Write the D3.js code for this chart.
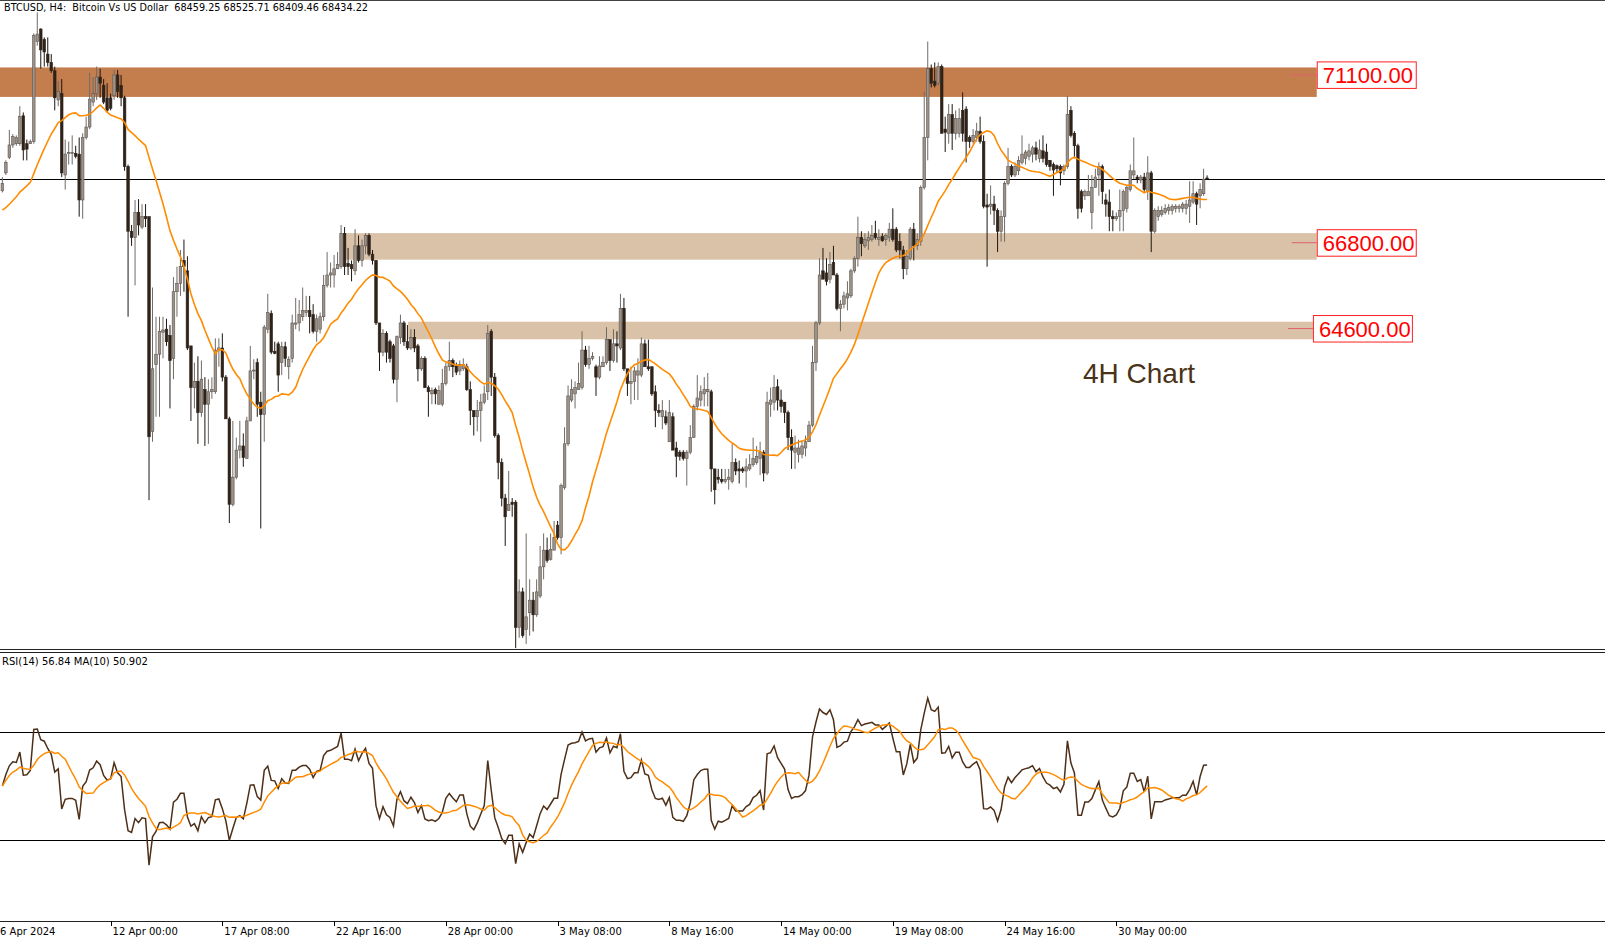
<!DOCTYPE html>
<html><head><meta charset="utf-8">
<script src="https://cdn.jsdelivr.net/npm/d3@7"></script>
<style>
body{margin:0;background:#fff;}
svg{display:block;}
text{white-space:pre;}
</style>
</head><body>
<svg id="chart" width="1605" height="940"></svg>
<script>
// ---------------- DATA ----------------
const firstBar = 5;      // index of first visible 4H bar (bar 0 = 6 Apr 2024 00:00)
const lastBar = 350;
const opens = [
68130,68589,68984,69305,69337,69337,70053,69337,69337,69390,
71955,72275,72008,71634,71420,71207,70459,70619,68536,69091,
69091,69091,69070,67895,69497,69764,70405,70619,71046,70833,
70513,70513,70566,71100,70833,70513,68749,67093,66933,67574,
67200,67467,67467,61965,63675,63942,64508,64583,64423,63835,
65544,65760,66345,66078,64155,63087,63247,62446,63034,62660,
62980,62980,64049,64102,63354,62286,60095,60790,61484,61591,
61271,62232,63514,63728,62713,62393,64583,64989,64017,64208,
63728,64134,63621,63835,64711,64743,64903,65010,65064,64957,
64530,64583,64903,65705,65972,65972,66132,66185,67040,66271,
66239,66078,66720,66345,66720,66987,66506,66345,64743,63995,
64476,64262,64155,63301,64370,64743,64262,64102,64370,64155,
63568,63835,63087,62926,63034,62660,62660,63194,63621,63782,
63642,63514,63568,63621,63034,62500,62339,62500,62713,62980,
64530,63354,61858,61164,60255,59935,60149,60149,56943,57851,
56890,57317,57638,57264,57745,58493,58920,58685,58920,59561,
59241,60523,61645,62767,62926,63034,63087,64049,63675,63835,
63621,63354,63621,63728,64316,63782,64208,64102,65117,63568,
63194,63247,63407,63407,64208,63621,63621,62980,62500,62339,
62339,61698,62339,61538,61431,61431,61271,61431,61805,62606,
62767,62926,62980,62980,61003,60790,60736,60683,60736,60683,
61164,61003,61003,60950,61003,61110,61164,61271,61431,60897,
62660,62713,63108,62767,62713,62446,61805,61431,61378,61378,
61538,61698,62125,63728,64743,66078,66025,65865,66292,65972,
65117,65224,65384,65437,66078,66399,66933,66720,66848,66880,
67040,66880,66955,66880,66933,67147,67147,66826,66613,66132,
66399,67147,66720,66826,68215,69497,71260,70940,70886,71313,
69711,69604,70085,69604,69604,70192,70224,69497,69390,69497,
69658,69390,67767,67735,67788,67627,67093,67467,68322,68749,
68536,68643,68856,68963,69016,69070,69230,68963,69155,69123,
68910,68803,68771,68749,68642,68749,70192,69604,69284,68108,
68002,68002,67574,68215,68536,68749,67895,67841,67467,67414,
67467,67627,67681,68162,68536,68482,68408,68482,68108,68589,
67093,67467,67521,67574,67627,67627,67681,67681,67681,67681,
67735,67841,68055,68002,68055,68459.25];
const highs = [
68482,68910,69690,69583,69550,70298,70138,69444,69444,72168,
72702,72296,72061,72061,71634,71313,70940,70993,69444,69390,
69550,69284,69497,69604,70031,71153,71046,71313,71260,70993,
70886,70619,71228,71228,71100,70566,68803,67254,67895,67916,
67788,67788,67467,65651,64903,64903,64903,64850,64690,65918,
66185,66613,66880,66452,64155,63728,63889,63782,63354,63301,
63350,64348,64348,64476,63407,62339,62232,61805,62232,61912,
62339,64155,63813,63835,62980,64690,65491,65064,64262,64262,
64262,64262,63889,64957,65384,65331,65651,65437,65437,65224,
64957,65010,65972,66559,66292,66484,66559,67254,67200,66666,
66345,67147,66987,66880,67040,67040,66613,66345,64743,64583,
64530,64316,64208,64423,64957,64796,64690,64583,64583,64208,
63889,63889,63141,63087,63087,63141,63568,63728,64262,63835,
63728,63782,63835,63700,63247,62500,62767,62926,63141,64690,
64583,63461,61912,61271,60362,60950,60255,60202,58172,57958,
59348,58172,57851,58172,59027,59348,59241,59348,59668,59668,
60630,62072,63141,63301,63247,63728,64530,64155,64155,63995,
63675,63889,63889,64636,64316,64583,64530,65491,65384,63568,
63621,63621,63835,64369,64316,64316,63621,63141,62660,62767,
62500,62767,62446,61698,61484,61484,61484,62125,62660,63407,
63141,63354,63461,63034,61003,61003,61003,61003,61003,61645,
61271,61217,61057,61271,61378,61805,61591,61698,61484,62980,
63087,63407,63301,63034,62713,62500,62018,61858,61751,61698,
61858,62232,64155,64796,66399,66666,66399,66559,66720,66025,
65331,65544,65811,66132,66452,67467,67093,67040,67093,67254,
67361,67147,67040,67040,67307,67681,67200,67040,66720,66613,
67200,67307,67040,68269,70673,71955,71367,71420,71420,71367,
70031,70352,70352,70192,70245,70651,70298,69550,69711,69871,
70031,69550,68055,68269,68002,67681,67627,68375,69230,68803,
68856,69016,69550,69177,69337,69284,69390,69444,69550,69337,
68910,68856,68803,68803,68803,70566,70298,69658,69337,68162,
68162,68536,68536,68696,68856,68803,68055,68162,67627,67574,
68162,68162,68269,68803,69497,68536,68536,68589,69016,68642,
67681,67735,67735,67788,67788,67788,67788,67788,67841,67895,
68375,68375,68108,68322,68696,68525.71];
const lows = [
68087,68536,68942,69230,69284,69284,68910,68910,69337,69337,
71848,71260,71313,71313,71153,70192,70298,68482,68162,68803,
68803,68963,67467,67414,69444,69711,70298,70459,70513,70352,
70138,70192,70459,70513,70298,68642,64903,66720,65705,66987,
67147,67200,60202,61698,62339,62339,63835,64155,62553,63301,
64903,65437,65544,64049,62232,62553,61645,62339,61591,61645,
62800,62926,63621,63247,62286,59614,60042,60736,61271,61057,
61271,62232,63301,62339,59476,61698,64476,63942,63942,62980,
63407,63621,63301,63728,64583,64529,64796,64903,64476,64476,
64262,64476,64796,65651,65651,65651,66132,66132,65972,65972,
65811,65972,66292,66185,66506,66452,66239,64690,63514,63889,
63728,63728,63194,62713,64208,64155,64049,64049,63995,63247,
63514,63087,62339,62660,62660,62660,62606,63141,63514,63354,
63407,63407,63514,63000,62125,61858,61965,61698,62660,62767,
62873,61805,60736,60042,59027,59935,59775,56409,56676,56676,
56516,56730,56836,57211,57691,58172,58600,58653,58920,59188,
58813,60469,61591,62713,62553,63034,63034,63621,63568,63782,
62873,63301,63621,63675,63514,63728,63728,64049,63514,62873,
62660,62767,62767,63354,63621,63514,62873,62072,62339,62018,
62125,61698,61484,60790,61217,61217,60576,61378,61805,62500,
62606,62606,62606,60416,60095,60629,60629,60629,60469,60629,
60843,60629,60897,60523,60950,61057,61110,60843,60683,60843,
62339,62500,62500,62446,62179,61484,61003,61003,61164,61271,
61324,61698,62072,63514,64690,65865,65705,65758,65972,65064,
64530,65117,65064,65384,66025,66185,66452,66666,66613,66826,
66880,66720,66826,66720,66826,66826,66559,66399,65865,65972,
66345,66345,66613,66720,68162,68910,70779,70779,70833,69604,
69123,69337,69177,69444,69497,69390,68856,69230,69337,69390,
69337,67681,66185,67521,67254,66559,66826,66826,68269,68482,
68482,68536,68803,68803,68910,68856,68910,68856,68856,68749,
68642,68002,68589,68269,68536,68696,69497,68963,67414,67574,
67895,68002,67147,68215,68002,67788,67467,67093,67093,67361,
67093,67093,67574,68108,68429,68322,68322,68108,67895,66559,
67040,67361,67467,67521,67521,67521,67574,67574,67574,67521,
67307,67788,67254,67681,68002,68409.46];
const closes = [
68322,68856,69305,69519,69497,70031,69177,69198,69390,72115,
72147,71741,71688,71420,71207,70513,70673,68589,69070,69113,
69113,69016,67895,69497,69764,70480,70619,71046,70886,70405,
70192,70245,71100,70673,70513,68749,67093,66933,67574,67254,
67467,67414,61826,63568,63942,64530,64562,64262,63782,65544,
65760,66185,66185,64102,63087,63247,62446,63301,62660,62980,
63034,64049,64102,63354,62286,60095,60790,61484,61591,61292,
62232,63514,63536,62660,62393,64636,65010,63995,63963,63407,
64134,63835,63813,64743,64743,64957,65064,65064,64903,64530,
64850,64903,65705,65972,66025,66132,66239,67040,66185,66185,
66132,66720,66345,66720,66987,66506,66345,64743,63995,64476,
63995,63835,63301,64390,64743,64262,64102,64370,64102,63568,
63835,63087,62980,63012,62926,63012,63194,63621,63782,63621,
63482,63675,63675,63034,62500,62339,62500,62713,62926,64476,
63354,61858,61164,60255,59775,60095,60095,56943,57851,56730,
57211,57638,57264,57851,58493,58920,58653,58942,59241,59241,
60576,61645,62873,63034,63087,63194,64049,63675,63835,63889,
63354,63642,63728,64316,63782,64208,64155,65117,63568,63194,
63247,63514,63514,64208,63621,63568,62926,62500,62446,62500,
62179,62446,61484,61324,61324,61271,61431,61805,62606,62820,
62980,63034,63034,61003,60469,60736,60683,60736,60790,61164,
60950,60950,60950,61057,61110,61271,61324,61431,60897,62713,
62767,63087,62767,62606,62446,61805,61484,61538,61538,61591,
61698,62125,63728,64743,65972,65865,65811,66239,65972,65117,
65224,65437,65491,66078,66399,66933,66773,66880,66933,66987,
66933,66933,66848,66987,67147,66880,66613,66613,66132,66452,
67147,66720,66880,68215,69497,71260,70886,70833,71313,69604,
69626,70085,69604,69978,69978,69604,69390,69390,69550,69658,
69390,67735,67713,67788,67627,67093,67467,68322,68749,68536,
68749,68910,69070,69123,69155,69230,69070,69177,68963,68803,
68749,68664,68696,68589,68749,70085,69550,69284,67681,67681,
68108,68108,68215,68482,68749,68108,67788,67467,67414,67467,
67627,68108,68215,68642,68642,68429,68482,68162,68589,67093,
67627,67627,67627,67681,67703,67735,67735,67735,67788,67788,
67895,68055,67788,68162,68429,68434.22];

// support / resistance zones (price bounds, first bar, end bar)
const zoneTops    = [71292, 67045, 64775];
const zoneBottoms = [70536, 66365, 64325];
const zoneStartBars = [0, 103.1, 121.2];
const zoneEndBars   = [381.4, 381.4, 380.3];
const zoneColors = ["#c47e4e", "#d9c2a7", "#d9c2a7"];
const levelPrices = [71100, 66800, 64600];
const levelLabels = ["71100.00", "66800.00", "64600.00"];

const currentPrice = 68434.22;
const headerText = "BTCUSD, H4:  Bitcoin Vs US Dollar  68459.25 68525.71 68409.46 68434.22";
const rsiLabel = "RSI(14) 56.84 MA(10) 50.902";
const chartNote = "4H Chart";

const tickBars   = [0, 36, 68, 100, 132, 164, 196, 228, 260, 292, 324];
const tickLabels = ["6 Apr 2024","12 Apr 00:00","17 Apr 08:00","22 Apr 16:00","28 Apr 00:00",
                    "3 May 08:00","8 May 16:00","14 May 00:00","19 May 08:00","24 May 16:00","30 May 00:00"];
const rsiLevels = [70, 30];
const maPeriod = 20, rsiPeriod = 14, rsiMaPeriod = 10;
// level of the (unseen) closes before the window, estimated from where the MA line starts at the left edge
const maPriorLevel = 67600;

// ---------------- INDICATORS (from the candle closes) ----------------
function smaSeeded(vals, n, prior) {
  const out = []; let s = 0;
  vals.forEach((v, i) => {
    s += v; if (i >= n) s -= vals[i - n];
    const cnt = Math.min(i + 1, n);
    out.push((s + (n - cnt) * prior) / n);
  });
  return out;
}
function sma(vals, n) {
  const out = []; let s = 0;
  vals.forEach((v, i) => { s += v; if (i >= n) s -= vals[i - n]; out.push(s / Math.min(i + 1, n)); });
  return out;
}
function rsiCalc(vals, n) {
  // Wilder smoothing; unseen history assumed neutral (equal average gain and loss)
  let tot = 0;
  for (let i = 1; i < vals.length; i++) tot += Math.abs(vals[i] - vals[i - 1]);
  let ag = tot / (vals.length - 1) / 2, al = ag;
  const out = [50];
  for (let i = 1; i < vals.length; i++) {
    const ch = vals[i] - vals[i - 1], g = Math.max(ch, 0), l = Math.max(-ch, 0);
    ag = (ag * (n - 1) + g) / n; al = (al * (n - 1) + l) / n;
    out.push(al === 0 ? 100 : 100 - 100 / (1 + ag / al));
  }
  return out;
}
const maVals = smaSeeded(closes, maPeriod, maPriorLevel);
const rsiVals = rsiCalc(closes, rsiPeriod);
const rsiMa = sma(rsiVals, rsiMaPeriod);

// ---------------- LAYOUT ----------------
const W = 1605, H = 940;
const mainTop = 0, mainBottom = 649, rsiTop = 651, rsiBottom = 921;
const svg = d3.select("#chart");
const x = d3.scaleLinear().domain([0, lastBar]).range([-15.1, 1207.1]);
const y = d3.scaleLinear().domain([56387, 73020]).range([mainBottom, mainTop]);
const yR = d3.scaleLinear().domain([0, 100]).range([rsiBottom, rsiTop]);

const defs = svg.append("defs");
defs.append("clipPath").attr("id", "clipMain").append("rect").attr("x", 0).attr("y", 0).attr("width", W).attr("height", mainBottom);
defs.append("clipPath").attr("id", "clipRsi").append("rect").attr("x", 0).attr("y", rsiTop + 1).attr("width", W).attr("height", rsiBottom - rsiTop - 1);

svg.append("rect").attr("width", W).attr("height", H).attr("fill", "#ffffff");

const gMain = svg.append("g").attr("clip-path", "url(#clipMain)");

// zones
gMain.selectAll("rect.zone").data(zoneTops.map((t, i) => ({t, b: zoneBottoms[i], s: zoneStartBars[i], e: zoneEndBars[i], c: zoneColors[i]})))
  .join("rect").attr("class", "zone")
  .attr("x", d => Math.max(0, x(d.s))).attr("width", d => x(d.e) - Math.max(0, x(d.s)))
  .attr("y", d => y(d.t)).attr("height", d => y(d.b) - y(d.t))
  .attr("fill", d => d.c);

// current price line
gMain.append("line").attr("x1", 0).attr("x2", W).attr("y1", Math.round(y(currentPrice)) + 0.5).attr("y2", Math.round(y(currentPrice)) + 0.5)
  .attr("stroke", "#000").attr("stroke-width", 1);

// candles
const bars = closes.map((c, i) => ({i: i + firstBar, o: opens[i], h: highs[i], l: lows[i], c}));
const bw = 2.6;
gMain.selectAll("line.wick").data(bars).join("line").attr("class", "wick")
  .attr("x1", d => x(d.i)).attr("x2", d => x(d.i))
  .attr("y1", d => y(d.h)).attr("y2", d => y(d.l))
  .attr("stroke", d => d.c >= d.o ? "#6f6a66" : "#1e1610").attr("stroke-width", 1);
gMain.selectAll("rect.body").data(bars).join("rect").attr("class", "body")
  .attr("x", d => x(d.i) - bw / 2).attr("width", bw)
  .attr("y", d => y(Math.max(d.o, d.c))).attr("height", d => Math.max(1, Math.abs(y(d.o) - y(d.c))))
  .attr("fill", d => d.c >= d.o ? "#9b928a" : "#2e2219")
  .attr("stroke", d => d.c >= d.o ? "#5e5650" : "#2e2219").attr("stroke-width", 0.6);

// moving average
gMain.append("path").datum(bars.map((b, k) => ({i: b.i, v: maVals[k]})))
  .attr("fill", "none").attr("stroke", "#ff8c00").attr("stroke-width", 1.6)
  .attr("d", d3.line().x(d => x(d.i)).y(d => y(d.v)));

// level labels
levelPrices.forEach((p, i) => {
  const bx = x(zoneEndBars[i]);
  const cy = y(p);
  svg.append("line").attr("x1", bx - 25).attr("x2", bx).attr("y1", cy).attr("y2", cy)
    .attr("stroke", "#e06070").attr("stroke-width", 1);
  svg.append("rect").attr("x", bx + 0.5).attr("y", cy - 13).attr("width", 99).attr("height", 26.5)
    .attr("fill", "#fff").attr("stroke", "#ff2020").attr("stroke-width", 1);
  svg.append("text").attr("x", bx + 6).attr("y", cy + 8.5).text(levelLabels[i])
    .attr("font-family", "Liberation Sans, Arial, sans-serif").attr("font-size", 22).attr("fill", "#ff0000");
});

svg.append("text").attr("x", 1083).attr("y", 382.5).text(chartNote)
  .attr("font-family", "Liberation Sans, Arial, sans-serif").attr("font-size", 28).attr("fill", "#4a3318");

svg.append("text").attr("x", 4).attr("y", 11).text(headerText)
  .attr("textLength", 364).attr("lengthAdjust", "spacingAndGlyphs")
  .attr("font-family", "DejaVu Sans, sans-serif").attr("font-size", 10).attr("fill", "#000");

// borders / separators
svg.append("line").attr("x1", 0).attr("x2", W).attr("y1", 0.5).attr("y2", 0.5).attr("stroke", "#444");
svg.append("line").attr("x1", 0).attr("x2", W).attr("y1", mainBottom + 0.5).attr("y2", mainBottom + 0.5).attr("stroke", "#222");
svg.append("line").attr("x1", 0).attr("x2", W).attr("y1", rsiTop + 1.5).attr("y2", rsiTop + 1.5).attr("stroke", "#222");
svg.append("line").attr("x1", 0).attr("x2", W).attr("y1", rsiBottom + 0.5).attr("y2", rsiBottom + 0.5).attr("stroke", "#222");

// RSI panel
const gR = svg.append("g").attr("clip-path", "url(#clipRsi)");
gR.selectAll("line.lvl").data(rsiLevels).join("line").attr("class", "lvl")
  .attr("x1", 0).attr("x2", W).attr("y1", d => Math.round(yR(d)) + 0.5).attr("y2", d => Math.round(yR(d)) + 0.5)
  .attr("stroke", "#000").attr("stroke-width", 1);
const rsiPts = bars.map((b, k) => ({i: b.i, v: rsiVals[k], m: rsiMa[k]}));
gR.append("path").datum(rsiPts).attr("fill", "none").attr("stroke", "#4e2f17").attr("stroke-width", 1.5)
  .attr("d", d3.line().x(d => x(d.i)).y(d => yR(d.v)));
gR.append("path").datum(rsiPts).attr("fill", "none").attr("stroke", "#ff8c00").attr("stroke-width", 1.5)
  .attr("d", d3.line().x(d => x(d.i)).y(d => yR(d.m)));
svg.append("text").attr("x", 2).attr("y", 665).text(rsiLabel)
  .attr("font-family", "DejaVu Sans, sans-serif").attr("font-size", 10).attr("fill", "#000");

// time axis
const gA = svg.append("g");
tickBars.forEach((b, i) => {
  const tx = x(b);
  if (i > 0) gA.append("line").attr("x1", Math.round(tx) + 0.5).attr("x2", Math.round(tx) + 0.5)
    .attr("y1", rsiBottom).attr("y2", rsiBottom + 5).attr("stroke", "#000");
  gA.append("text").attr("x", Math.max(tx + 2, 0)).attr("y", 935).text(tickLabels[i])
    .attr("font-family", "DejaVu Sans, sans-serif").attr("font-size", 10).attr("fill", "#000");
});
</script>
</body></html>
